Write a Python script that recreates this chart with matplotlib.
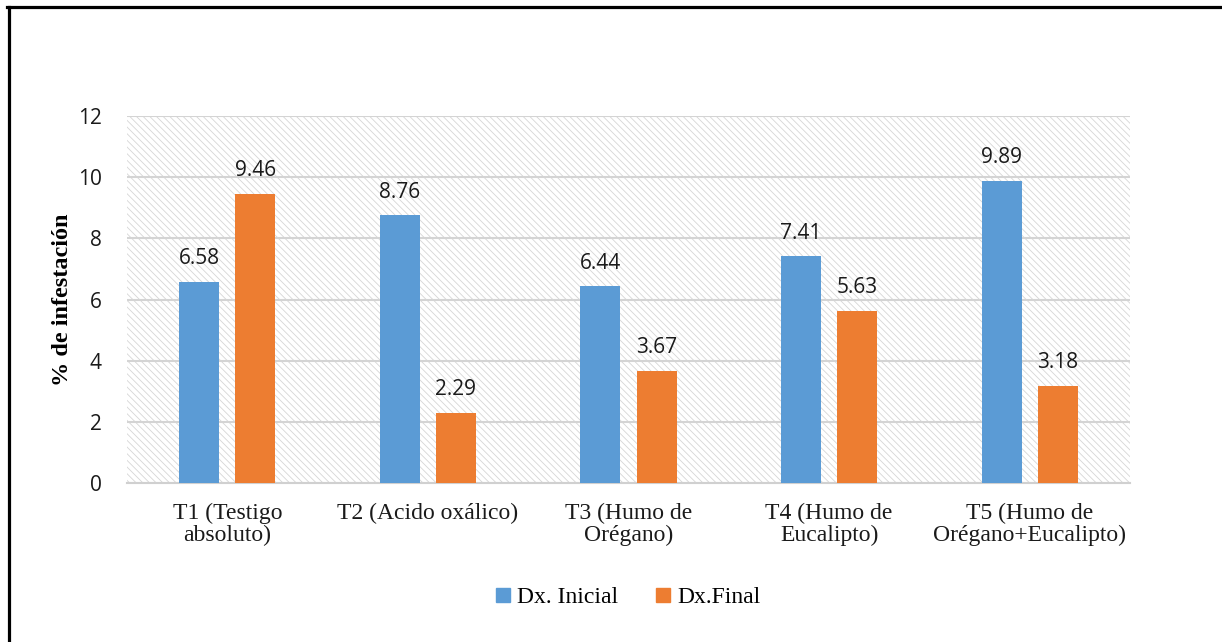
import matplotlib
matplotlib.use("Agg")
import numpy as np
import matplotlib.pyplot as plt
from matplotlib.patches import Rectangle
from matplotlib.lines import Line2D

categorias = ["T1 (Testigo\nabsoluto)", "T2 (Acido oxálico)", "T3 (Humo de\nOrégano)",
              "T4 (Humo de\nEucalipto)", "T5 (Humo de\nOrégano+Eucalipto)"]
dx_inicial = [6.58, 8.76, 6.44, 7.41, 9.89]
dx_final = [9.46, 2.29, 3.67, 5.63, 3.18]
yticks = [0, 2, 4, 6, 8, 10, 12]

azul = "#5B9BD5"
naranja = "#ED7D31"
serif = "Liberation Serif"
sans = "Open Sans"

plt.rcParams['hatch.linewidth'] = 0.6

fig = plt.figure(figsize=(12.22, 6.42), dpi=100)
ax = fig.add_axes([127/1222, 1-483/642, 1003/1222, 367/642])

# fondo rayado del area de trazado
fondo = Rectangle((0, 0), 1, 1, transform=ax.transAxes, facecolor="white",
                  edgecolor="#d6d6d6", linewidth=0, hatch="\\\\\\\\\\", zorder=0)
ax.add_patch(fondo)

x = np.arange(len(categorias))
w = 0.2
b1 = ax.bar(x - 0.14, dx_inicial, w, color=azul, zorder=3)
b2 = ax.bar(x + 0.14, dx_final, w, color=naranja, zorder=3)

for bars, vals in ((b1, dx_inicial), (b2, dx_final)):
    for r, v in zip(bars, vals):
        ax.annotate(f"{v:.2f}", (r.get_x() + r.get_width()/2, v), xytext=(0, 9),
                    textcoords="offset points", ha="center", va="bottom",
                    fontsize=15, family=sans, color="#1a1a1a", zorder=4)

ax.set_ylim(0, 12)
ax.set_xlim(-0.5, len(categorias) - 0.5)
ax.set_yticks(yticks)
ax.set_yticklabels([str(t) for t in yticks], family=sans, fontsize=15, color="#1a1a1a")
ax.set_xticks(x)
ax.set_xticklabels(categorias, family=serif, fontsize=17, color="#1a1a1a", linespacing=1.05)
ax.tick_params(axis="y", length=0, pad=18)
ax.tick_params(axis="x", length=0, pad=14)
ax.yaxis.grid(True, color="#d4d4d4", linewidth=1.5, zorder=1)
ax.set_axisbelow(True)
for s in ["top", "right", "left"]:
    ax.spines[s].set_visible(False)
ax.spines["bottom"].set_color("#d0d0d0")
ax.spines["bottom"].set_linewidth(1.5)
ax.patch.set_visible(False)

ax.set_ylabel("% de infestación", family=serif, fontsize=17.5, fontweight="bold", labelpad=4)

handles = [Line2D([], [], marker="s", linestyle="none", markersize=9.5, color=azul),
           Line2D([], [], marker="s", linestyle="none", markersize=9.5, color=naranja)]
fig.legend(handles, ["Dx. Inicial", "Dx.Final"], loc="center", bbox_to_anchor=(628/1222, 1-597/642),
           ncol=2, frameon=False, handlelength=0.6, handletextpad=0.3, columnspacing=1.6,
           prop={"family": serif, "size": 17})

# marco del recuadro
fig.add_artist(Line2D([8.5/1222, 8.5/1222], [0, 1-7/642], transform=fig.transFigure,
                      color="black", linewidth=2.3))
fig.add_artist(Line2D([7.5/1222, 1], [1-7/642, 1-7/642], transform=fig.transFigure,
                      color="black", linewidth=2.3))

fig.savefig("out.png", dpi=100)
